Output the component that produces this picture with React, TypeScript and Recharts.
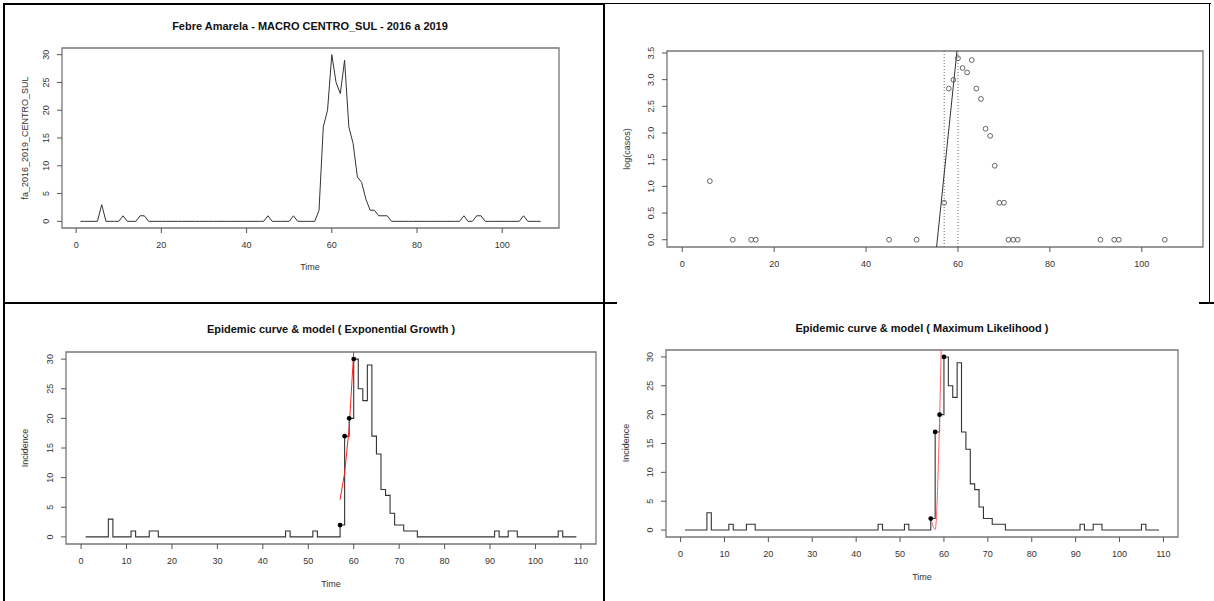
import React from "react"
import { ComposedChart, Line, Scatter, XAxis, YAxis, ReferenceArea, ReferenceLine } from "recharts"

// weekly yellow fever cases, weeks 1..109
const cases = [
  0, 0, 0, 0, 0, 3, 0, 0, 0, 0,
  1, 0, 0, 0, 1, 1, 0, 0, 0, 0,
  0, 0, 0, 0, 0, 0, 0, 0, 0, 0,
  0, 0, 0, 0, 0, 0, 0, 0, 0, 0,
  0, 0, 0, 0, 1, 0, 0, 0, 0, 0,
  1, 0, 0, 0, 0, 0, 2, 17, 20, 30,
  25, 23, 29, 17, 14, 8, 7, 4, 2, 2,
  1, 1, 1, 0, 0, 0, 0, 0, 0, 0,
  0, 0, 0, 0, 0, 0, 0, 0, 0, 0,
  1, 0, 0, 1, 1, 0, 0, 0, 0, 0,
  0, 0, 0, 0, 1, 0, 0, 0, 0,
]

const fitWeeks = [57, 58, 59, 60]
const egFit = [6.3, 10.8, 18.4, 31.3]
const mlFit = [2.0, 0.1, 19, 57]
const logFitWeeks = [55, 60]
const logFitValues = [-0.42, 3.72]
const windowBounds = [57, 60]

const xTicksTop = [0, 20, 40, 60, 80, 100]
const xTicksBottom = [0, 10, 20, 30, 40, 50, 60, 70, 80, 90, 100, 110]
const yTicksCases = [0, 5, 10, 15, 20, 25, 30]
const yTicksLog = [0, 0.5, 1, 1.5, 2, 2.5, 3, 3.5]

const weekly = cases.map((v, i) => ({ t: i + 1, v }))
const logPoints = weekly.filter((d) => d.v > 0).map((d) => ({ t: d.t, v: Math.log(d.v) }))
const windowPoints = weekly.filter((d) => fitWeeks.includes(d.t))
const egLine = fitWeeks.map((t, i) => ({ t, v: egFit[i] }))
const mlLine = fitWeeks.map((t, i) => ({ t, v: mlFit[i] }))
const logFit = logFitWeeks.map((t, i) => ({ t, v: logFitValues[i] }))

const FONT = '"Liberation Sans", Arial, Helvetica, sans-serif'
const X_DOMAIN: [number, number] = [-3.32, 113.32]
const Y_CASES: [number, number] = [-1.2, 31.2]
const Y_LOG: [number, number] = [-0.136, 3.537]
const INK = "#333"
const BOX = "#777"

const YTick = (props: any) => {
  const { x, y, payload, fmt } = props
  return (
    <text x={x} y={y} textAnchor="middle" dominantBaseline="central" fontSize={9} fill={INK}
      fontFamily={FONT} transform={`rotate(-90, ${x}, ${y})`}>
      {fmt ? fmt(payload.value) : payload.value}
    </text>
  )
}

type PanelProps = {
  left: number; top: number; width: number; height: number
  box: { l: number; t: number; r: number; b: number }
  yDomain: [number, number]; xTicks: number[]; yTicks: number[]
  yFmt?: (v: number) => string
  children: React.ReactNode
}

function Panel({ left, top, width, height, box, yDomain, xTicks, yTicks, yFmt, children }: PanelProps) {
  return (
    <div style={{ position: "absolute", left, top, width, height }}>
      <ComposedChart width={width} height={height}
        margin={{ top: box.t, right: width - box.r, bottom: 0, left: 0 }}>
        <XAxis type="number" dataKey="t" domain={X_DOMAIN} allowDataOverflow ticks={xTicks}
          interval={0} axisLine={false} tickLine={{ stroke: "#555" }} tickSize={5} tickMargin={9}
          height={height - box.b} tick={{ fontSize: 9, fill: INK, fontFamily: FONT }} />
        <YAxis type="number" dataKey="v" domain={yDomain} allowDataOverflow ticks={yTicks}
          interval={0} axisLine={false} tickLine={{ stroke: "#555" }} tickSize={5} tickMargin={11}
          width={box.l} tick={<YTick fmt={yFmt} />} />
        <ReferenceArea x1={X_DOMAIN[0]} x2={X_DOMAIN[1]} y1={yDomain[0]} y2={yDomain[1]}
          fill="none" stroke={BOX} strokeWidth={1.3} ifOverflow="visible" />
        {children}
      </ComposedChart>
    </div>
  )
}

function Caption({ x, y, text, bold, rotate }: { x: number; y: number; text: string; bold?: boolean; rotate?: boolean }) {
  return (
    <div style={{
      position: "absolute", left: x, top: y, whiteSpace: "nowrap", fontFamily: FONT,
      fontSize: bold ? 11 : 9, fontWeight: bold ? 700 : 400, color: bold ? "#111" : INK, lineHeight: 1,
      transform: `translate(-50%, -50%)${rotate ? " rotate(-90deg)" : ""}`,
    }}>{text}</div>
  )
}

const Rule = ({ x, y, w, h, c = "#000" }: { x: number; y: number; w: number; h: number; c?: string }) => (
  <div style={{ position: "absolute", left: x, top: y, width: w, height: h, background: c }} />
)

export default function App() {
  return (
    <div style={{ position: "absolute", left: 0, top: 0, width: 1214, height: 601, background: "#fff", overflow: "hidden" }}>
      {/* top left: raw series */}
      <Panel left={0} top={0} width={605} height={304} box={{ l: 62, t: 48, r: 559, b: 228 }}
        yDomain={Y_CASES} xTicks={xTicksTop} yTicks={yTicksCases}>
        <Line data={weekly} dataKey="v" type="linear" stroke={INK} strokeWidth={1} dot={false} isAnimationActive={false} />
      </Panel>
      <Caption x={310} y={26} text="Febre Amarela - MACRO CENTRO_SUL - 2016 a 2019" bold />
      <Caption x={310} y={267} text="Time" />
      <Caption x={25} y={138} text="fa_2016_2019_CENTRO_SUL" rotate />

      {/* top right: log cases with fit window */}
      <Panel left={605} top={0} width={609} height={304} box={{ l: 62, t: 51, r: 598, b: 247 }}
        yDomain={Y_LOG} xTicks={xTicksTop} yTicks={yTicksLog} yFmt={(v) => v.toFixed(1)}>
        <ReferenceLine x={windowBounds[0]} stroke="#666" strokeDasharray="1 2" />
        <ReferenceLine x={windowBounds[1]} stroke="#666" strokeDasharray="1 2" />
        <Line data={logFit} dataKey="v" type="linear" stroke={INK} strokeWidth={1} dot={false} isAnimationActive={false} />
        <Scatter data={logPoints} dataKey="v" isAnimationActive={false}
          shape={(p: any) => <circle cx={p.cx} cy={p.cy} r={2.4} fill="none" stroke="#555" strokeWidth={0.9} />} />
      </Panel>
      <Caption x={627} y={149} text="log(casos)" rotate />

      {/* bottom left: exponential growth */}
      <Panel left={0} top={304} width={605} height={297} box={{ l: 66, t: 48, r: 596, b: 240 }}
        yDomain={Y_CASES} xTicks={xTicksBottom} yTicks={yTicksCases}>
        <Line data={weekly} dataKey="v" type="stepAfter" stroke={INK} strokeWidth={1.1} dot={false} isAnimationActive={false} />
        <Line data={egLine} dataKey="v" type="linear" stroke="#ff2020" strokeWidth={1} dot={false} isAnimationActive={false} />
        <Scatter data={windowPoints} dataKey="v" isAnimationActive={false}
          shape={(p: any) => <circle cx={p.cx} cy={p.cy} r={2.4} fill="#000" />} />
      </Panel>
      <Caption x={331} y={329} text="Epidemic curve & model ( Exponential Growth )" bold />
      <Caption x={331} y={584} text="Time" />
      <Caption x={25} y={448} text="Incidence" rotate />

      {/* bottom right: maximum likelihood */}
      <Panel left={605} top={304} width={609} height={297} box={{ l: 61, t: 46, r: 573, b: 233 }}
        yDomain={Y_CASES} xTicks={xTicksBottom} yTicks={yTicksCases}>
        <Line data={weekly} dataKey="v" type="stepAfter" stroke={INK} strokeWidth={1.1} dot={false} isAnimationActive={false} />
        <Line data={mlLine} dataKey="v" type="monotone" stroke="#ff6060" strokeWidth={1} dot={false} isAnimationActive={false} />
        <Scatter data={windowPoints} dataKey="v" isAnimationActive={false}
          shape={(p: any) => <circle cx={p.cx} cy={p.cy} r={2.4} fill="#000" />} />
      </Panel>
      <Caption x={922} y={328} text="Epidemic curve & model ( Maximum Likelihood )" bold />
      <Caption x={922} y={577} text="Time" />
      <Caption x={626} y={443} text="Incidence" rotate />

      {/* table borders */}
      <Rule x={3} y={3} w={602} h={2} />
      <Rule x={605} y={3} w={606} h={1} />
      <Rule x={3} y={3} w={2} h={598} />
      <Rule x={603} y={3} w={2} h={598} />
      <Rule x={1209} y={3} w={1} h={300} />
      <Rule x={3} y={302} w={602} h={2} />
      <Rule x={605} y={302} w={12} h={2} />
      <Rule x={1199} y={302} w={15} h={2} />
    </div>
  )
}
